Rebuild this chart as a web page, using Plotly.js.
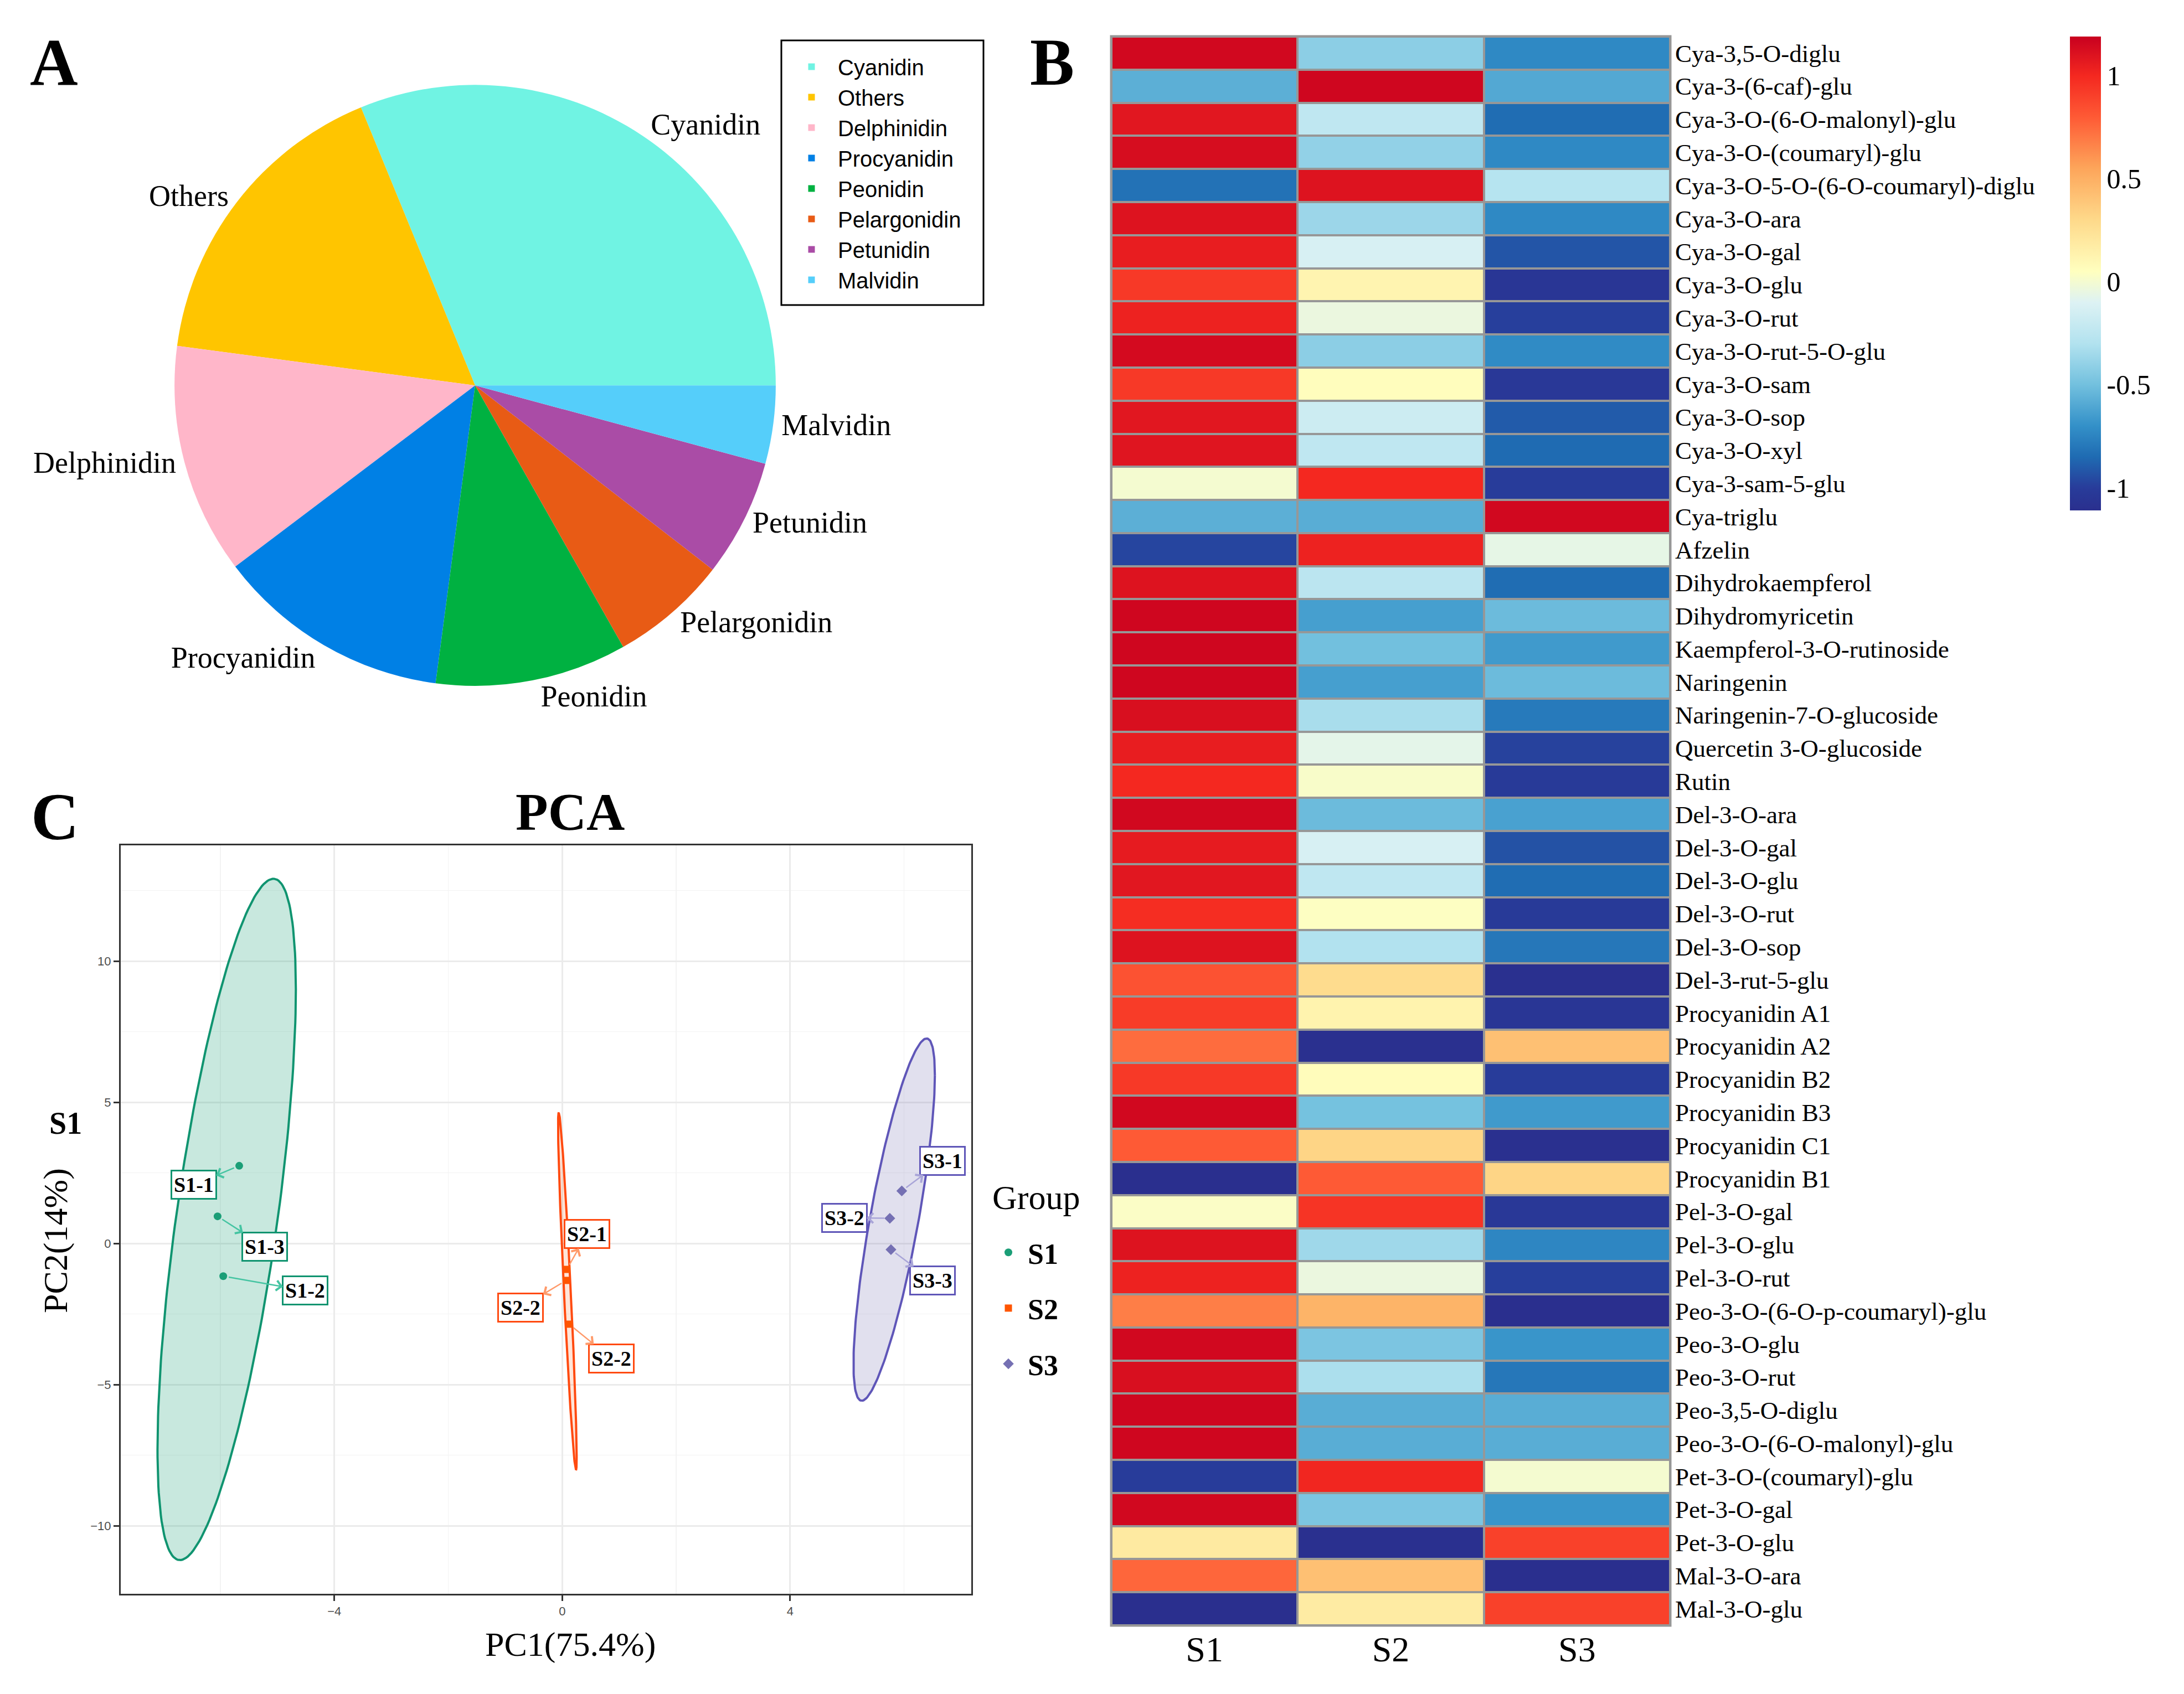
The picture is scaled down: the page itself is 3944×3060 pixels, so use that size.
<!DOCTYPE html>
<html><head><meta charset="utf-8">
<script src="https://cdn.plot.ly/plotly-3.0.1.min.js"></script>
<style>html,body{margin:0;padding:0;background:#fff}</style>
</head><body><div id="chart" style="width:3944px;height:3060px"></div>
<script>
// ---------------- Panel A: pie ----------------
const pieLabels = ['Cyanidin','Others','Delphinidin','Procyanidin','Peonidin','Pelargonidin','Petunidin','Malvidin'];
const pieValues = [31.2, 16.7, 12.4, 12.6, 10.3, 6.3, 6.3, 4.2];
const pieColors = ['#70F3E3','#FFC500','#FFB6C9','#0080E5','#00B141','#E85B15','#AA4CA6','#55CEFA'];

// ---------------- Panel B: heatmap (row z-scores) ----------------
const compounds = ['Cya-3,5-O-diglu','Cya-3-(6-caf)-glu','Cya-3-O-(6-O-malonyl)-glu','Cya-3-O-(coumaryl)-glu',
 'Cya-3-O-5-O-(6-O-coumaryl)-diglu','Cya-3-O-ara','Cya-3-O-gal','Cya-3-O-glu','Cya-3-O-rut','Cya-3-O-rut-5-O-glu',
 'Cya-3-O-sam','Cya-3-O-sop','Cya-3-O-xyl','Cya-3-sam-5-glu','Cya-triglu','Afzelin','Dihydrokaempferol',
 'Dihydromyricetin','Kaempferol-3-O-rutinoside','Naringenin','Naringenin-7-O-glucoside','Quercetin 3-O-glucoside',
 'Rutin','Del-3-O-ara','Del-3-O-gal','Del-3-O-glu','Del-3-O-rut','Del-3-O-sop','Del-3-rut-5-glu','Procyanidin A1',
 'Procyanidin A2','Procyanidin B2','Procyanidin B3','Procyanidin C1','Procyanidin B1','Pel-3-O-gal','Pel-3-O-glu',
 'Pel-3-O-rut','Peo-3-O-(6-O-p-coumaryl)-glu','Peo-3-O-glu','Peo-3-O-rut','Peo-3,5-O-diglu',
 'Peo-3-O-(6-O-malonyl)-glu','Pet-3-O-(coumaryl)-glu','Pet-3-O-gal','Pet-3-O-glu','Mal-3-O-ara','Mal-3-O-glu'];
const samples = ['S1','S2','S3'];
const zS1 = [1.15,-0.57,1.08,1.13,-0.82,1.10,1.05,0.93,1.03,1.14,0.93,1.08,1.09,0.00,-0.57,-0.97,1.10,1.16,1.16,1.16,
 1.12,1.05,1.00,1.15,1.06,1.08,0.98,1.10,0.83,0.92,0.74,0.93,1.15,0.80,-1.12,0.03,1.10,1.03,0.68,1.15,1.12,1.16,1.16,
 -1.00,1.15,0.19,0.76,-1.12];
const zS2 = [-0.42,1.16,-0.24,-0.40,1.10,-0.37,-0.13,0.12,-0.04,-0.42,0.06,-0.18,-0.24,1.00,-0.58,1.03,-0.26,-0.64,
 -0.50,-0.64,-0.33,-0.07,0.02,-0.52,-0.13,-0.24,0.04,-0.30,0.28,0.13,-1.10,0.07,-0.49,0.32,0.80,0.95,-0.36,-0.04,0.48,
 -0.47,-0.32,-0.58,-0.58,1.01,-0.47,-1.10,0.42,0.18];
const zS3 = [-0.73,-0.60,-0.84,-0.73,-0.28,-0.73,-0.92,-1.05,-0.99,-0.72,-1.03,-0.90,-0.85,-1.00,1.15,-0.06,-0.84,
 -0.52,-0.66,-0.52,-0.79,-0.98,-1.02,-0.63,-0.93,-0.84,-1.02,-0.80,-1.10,-1.05,0.42,-1.00,-0.66,-1.10,0.32,-1.03,
 -0.74,-0.99,-1.12,-0.68,-0.80,-0.58,-0.58,0.00,-0.68,0.90,-1.12,0.90];
const colorTicks = [-1, -0.5, 0, 0.5, 1];
const colorTickText = ['-1', '-0.5', '0', '0.5', '1'];

// ---------------- Panel C: PCA scores ----------------
const pcaLabels = ['S1-1','S1-3','S1-2','S2-1','S2-2','S2-2','S3-1','S3-2','S3-3'];
const pcaGroup  = ['S1','S1','S1','S2','S2','S2','S3','S3','S3'];
const pc1 = [-5.67,-6.05,-5.95, 0.08,0.07,0.12, 5.96,5.75,5.77];
const pc2 = [ 2.75, 0.96,-1.16,-0.92,-1.31,-2.86, 1.86,0.89,-0.22];
const groups = ['S1','S2','S3'];

// ---------------- styles / positions ----------------
const serif = 'Liberation Serif', sans = 'Liberation Sans';
const grpStyle = {
  S1:{color:'#1B9E77', line:'#109470', fill:'rgba(27,158,119,0.24)', arrow:'#45C4A2', symbol:'circle', size:14},
  S2:{color:'#FF5500', line:'#FF4A10', fill:'rgba(255,110,40,0.18)', arrow:'#FF9A6A', symbol:'square', size:13},
  S3:{color:'#7570B3', line:'#5F56B8', fill:'rgba(117,112,179,0.22)', arrow:'#A9A5D8', symbol:'diamond', size:15}
};
// label box centres (PC1, PC2) chosen by the repel layout
const labelPos = [[-6.47,2.08],[-5.22,-0.12],[-4.51,-1.67],[0.43,0.33],[-0.73,-2.28],[0.86,-4.07],[6.67,2.93],[4.95,0.91],[6.50,-1.32]];

const pieTotal = pieValues.reduce((a,b)=>a+b,0);
const traces = [];
traces.push({
  type:'pie', labels:pieLabels, values:pieValues, sort:false, direction:'counterclockwise',
  rotation: 90 - 360*pieValues[0]/pieTotal,
  marker:{colors:pieColors, line:{width:0}}, textinfo:'label', textposition:'outside',
  outsidetextfont:{family:serif, size:54, color:'#000'},
  domain:{x:[0.0799,0.3552], y:[0.595,0.950]}, legend:'legend', hoverinfo:'skip'
});

const zMat = compounds.map((c,i)=>[zS1[i], zS2[i], zS3[i]]);
traces.push({
  type:'heatmap', x:samples, y:compounds, z:zMat, xaxis:'x', yaxis:'y', xgap:4, ygap:4,
  zmin:-1.11, zmax:1.19,
  colorscale:[[0,'#2A2F8E'],[0.048,'#283C9A'],[0.113,'#1F6BB2'],[0.178,'#3390C8'],[0.265,'#72C0DE'],
    [0.352,'#B2E2EF'],[0.439,'#DDF2F4'],[0.504,'#FFFFBF'],[0.613,'#FED98A'],[0.722,'#FDA55A'],
    [0.83,'#FE5A35'],[0.917,'#F42820'],[1,'#C8001F']],
  colorbar:{x:3738/3944, xanchor:'left', y:1-66/3060, yanchor:'top', lenmode:'pixels', len:856,
    thickness:56, outlinewidth:0, xpad:0, ypad:0, ticks:'', tickvals:colorTicks, ticktext:colorTickText,
    tickfont:{family:serif, size:50, color:'#000'}, ticklabelposition:'outside'},
  hoverinfo:'skip'
});

// confidence ellipses (95%, F-based radius) computed from the scores
function ellipse(xs, ys){
  const n = xs.length;
  const mx = xs.reduce((a,b)=>a+b,0)/n, my = ys.reduce((a,b)=>a+b,0)/n;
  let sxx=0, syy=0, sxy=0;
  for(let i=0;i<n;i++){ sxx+=(xs[i]-mx)**2; syy+=(ys[i]-my)**2; sxy+=(xs[i]-mx)*(ys[i]-my); }
  sxx/=n-1; syy/=n-1; sxy/=n-1;
  const df2 = n-1, fq = (df2/2)*(Math.pow(0.05,-2/df2)-1);
  const r = Math.sqrt(2*fq);
  const a = Math.sqrt(sxx), b = sxy/a, c = Math.sqrt(Math.max(syy-b*b,0));
  const ex=[], ey=[];
  for(let k=0;k<=200;k++){ const t=2*Math.PI*k/200; ex.push(mx + r*a*Math.cos(t)); ey.push(my + r*(b*Math.cos(t)+c*Math.sin(t))); }
  return [ex, ey];
}
groups.forEach(g=>{
  const idx = pcaGroup.map((v,i)=>v===g?i:-1).filter(i=>i>=0);
  const [ex, ey] = ellipse(idx.map(i=>pc1[i]), idx.map(i=>pc2[i]));
  traces.push({type:'scatter', mode:'lines', x:ex, y:ey, xaxis:'x2', yaxis:'y2', fill:'toself',
    fillcolor:grpStyle[g].fill, line:{color:grpStyle[g].line, width:4}, showlegend:false, hoverinfo:'skip'});
});
groups.forEach(g=>{
  const idx = pcaGroup.map((v,i)=>v===g?i:-1).filter(i=>i>=0);
  traces.push({type:'scatter', mode:'markers', name:g, legend:'legend2', legendgroup:g,
    x:idx.map(i=>pc1[i]), y:idx.map(i=>pc2[i]), xaxis:'x2', yaxis:'y2',
    marker:{color:grpStyle[g].color, symbol:grpStyle[g].symbol, size:grpStyle[g].size}, hoverinfo:'skip'});
});

function paperText(text, px, py, size, bold, extra){
  return Object.assign({text:text, x:px/3944, y:1-py/3060, xref:'paper', yref:'paper', xanchor:'center', yanchor:'middle',
    showarrow:false, font:{family:serif, size:size, weight:bold?'bold':'normal', color:'#000'}}, extra||{});
}
const annotations = [
  paperText('A', 97, 113, 120, true),
  paperText('B', 1900, 113, 120, true),
  paperText('C', 99, 1475, 120, true),
  paperText('PCA', 1029, 1466, 96, true),
  paperText('PC1(75.4%)', 1030, 2970, 62, false),
  paperText('PC2(14%)', 100, 2241, 62, false, {textangle:-90}),
  paperText('S1', 118, 2029, 56, true),
  paperText('Group', 1871, 2163, 62, false)
];
pcaLabels.forEach((lab,i)=>{
  const st = grpStyle[pcaGroup[i]];
  annotations.push({text:lab, x:pc1[i], y:pc2[i], xref:'x2', yref:'y2', ax:labelPos[i][0], ay:labelPos[i][1],
    axref:'x2', ayref:'y2', showarrow:true, arrowside:'start', arrowhead:4, startarrowhead:4, arrowsize:1.4, startarrowsize:1.4,
    arrowwidth:2.5, arrowcolor:st.arrow, standoff:10, bgcolor:'#fff', bordercolor:st.line, borderwidth:3, borderpad:3,
    font:{family:serif, size:38, weight:'bold', color:'#000'}});
});

const layout = {
  width:3944, height:3060, margin:{l:0,r:0,t:0,b:0,pad:0}, paper_bgcolor:'#fff', plot_bgcolor:'rgba(0,0,0,0)',
  hovermode:false, font:{family:serif, color:'#000'},
  xaxis:{domain:[2007/3944, 3016/3944], anchor:'y', type:'category', showgrid:false, zeroline:false, showline:false,
    ticks:'', tickfont:{family:serif, size:64, color:'#000'}, fixedrange:true},
  yaxis:{domain:[1-2936/3060, 1-66/3060], anchor:'x', type:'category', side:'right', autorange:'reversed', showgrid:false,
    zeroline:false, showline:false, ticks:'', ticklabelstandoff:8, tickfont:{family:serif, size:45, color:'#000'}, fixedrange:true},
  xaxis2:{domain:[218/3944, 1754/3944], anchor:'y2', range:[-7.75,7.18], tick0:0, dtick:4, showgrid:true, gridcolor:'#EBEBEB',
    gridwidth:3, minor:{dtick:2, showgrid:true, gridcolor:'#F3F3F3', gridwidth:1.5}, zeroline:false, showline:true, mirror:true,
    linecolor:'#333', linewidth:3, ticks:'outside', ticklen:10, tickwidth:3, tickcolor:'#333',
    tickfont:{family:sans, size:22, color:'#4D4D4D'}},
  yaxis2:{domain:[1-2879/3060, 1-1527/3060], anchor:'x2', range:[-12.41,14.1], tick0:0, dtick:5, showgrid:true, gridcolor:'#EBEBEB',
    gridwidth:3, minor:{dtick:2.5, showgrid:true, gridcolor:'#F3F3F3', gridwidth:1.5}, zeroline:false, showline:true, mirror:true,
    linecolor:'#333', linewidth:3, ticks:'outside', ticklen:10, tickwidth:3, tickcolor:'#333',
    tickfont:{family:sans, size:22, color:'#4D4D4D'}},
  shapes:[
    {type:'rect', xref:'x domain', yref:'y domain', x0:0, x1:1, y0:0, y1:1, layer:'below',
      fillcolor:'#979797', line:{color:'#979797', width:5}},
    {type:'rect', xref:'paper', yref:'paper', x0:1411/3944, x1:1776/3944, y0:1-551/3060, y1:1-73/3060, layer:'above',
      fillcolor:'rgba(0,0,0,0)', line:{color:'#000', width:3}}
  ],
  legend:{x:1418/3944, y:1-88/3060, xanchor:'left', yanchor:'top', borderwidth:0, bgcolor:'rgba(0,0,0,0)',
    font:{family:sans, size:40, color:'#000'}, itemwidth:85, traceorder:'normal'},
  legend2:{x:1786/3944, y:1-2222/3060, xanchor:'left', yanchor:'top', font:{family:serif, size:52, weight:'bold', color:'#000'},
    tracegroupgap:30, itemsizing:'trace', itemwidth:60, bgcolor:'rgba(0,0,0,0)'},
  annotations:annotations
};
Plotly.newPlot('chart', traces, layout, {staticPlot:true, displayModeBar:false});
</script></body></html>
